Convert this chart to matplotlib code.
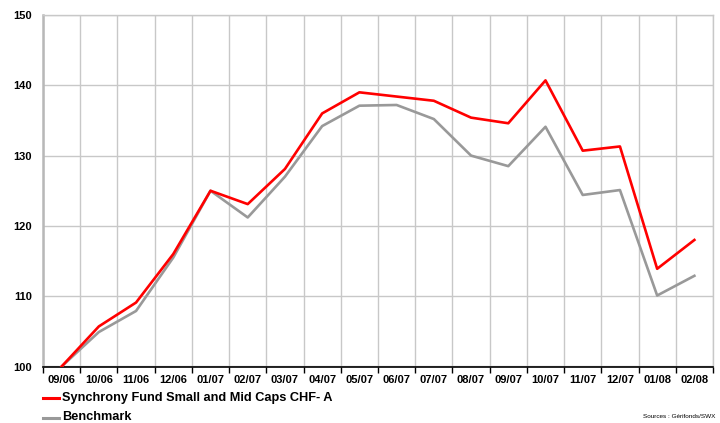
import numpy as np
import matplotlib
matplotlib.use('Agg')
import matplotlib.pyplot as plt
from matplotlib.lines import Line2D

plt.rcParams['font.family'] = ['Liberation Sans', 'DejaVu Sans']

# monthly index values (base 100 = 09/06)
months = ['09/06', '10/06', '11/06', '12/06', '01/07', '02/07', '03/07', '04/07', '05/07',
          '06/07', '07/07', '08/07', '09/07', '10/07', '11/07', '12/07', '01/08', '02/08']
fund = [100, 105.7, 109.1, 116.0, 125.0, 123.1, 128.1, 136.0, 139.0,
        138.4, 137.8, 135.4, 134.6, 140.7, 130.7, 131.3, 113.9, 118.0]
bench = [100, 104.9, 107.9, 115.5, 125.0, 121.2, 127.0, 134.2, 137.1,
         137.2, 135.2, 130.0, 128.5, 134.1, 124.4, 125.1, 110.1, 112.9]
yticks = [100, 110, 120, 130, 140, 150]

fund_name = 'Synchrony Fund Small and Mid Caps CHF- A'
bench_name = 'Benchmark'
red = '#ff0000'
grey = '#999999'
gridc = '#c8c8c8'

fig = plt.figure(figsize=(7.2, 4.23), dpi=100)
ax = fig.add_axes([43/720, 1 - 366.5/423, 670/720, (366.5 - 15)/423])

x = np.arange(len(months))
ax.plot(x, bench, color=grey, lw=1.9, zorder=3)
ax.plot(x, fund, color=red, lw=1.9, zorder=4)

ax.set_xlim(-0.5, len(months) - 0.5)
ax.set_ylim(100, 150)
ax.set_yticks(yticks)
ax.set_yticklabels([str(v) for v in yticks], fontsize=8, fontweight='bold')
ax.set_xticks(x)
ax.set_xticklabels(months, fontsize=8, fontweight='bold')
ax.set_xticks(np.arange(len(months) + 1) - 0.5, minor=True)

ax.tick_params(axis='x', which='major', length=0, pad=6)
ax.tick_params(axis='x', which='minor', length=4, width=1, color='black', direction='out')
ax.tick_params(axis='y', which='both', length=0, pad=8)

ax.grid(axis='y', which='major', color=gridc, lw=1)
ax.grid(axis='x', which='minor', color=gridc, lw=1)
ax.set_axisbelow(True)

for s in ['top', 'right']:
    ax.spines[s].set_color(gridc)
    ax.spines[s].set_linewidth(1)
ax.spines['left'].set_color('#b8b8b8')
ax.spines['left'].set_linewidth(1.8)
ax.spines['bottom'].set_color('black')
ax.spines['bottom'].set_linewidth(1.2)

# legend below the chart
fig.add_artist(Line2D([43/720, 59/720], [1 - 397.5/423] * 2, color=red, lw=2.2))
fig.text(62.5/720, 1 - 397.5/423, fund_name, fontsize=9.2, fontweight='bold', va='center')
fig.add_artist(Line2D([43/720, 59/720], [1 - 417.5/423] * 2, color=grey, lw=2.2))
fig.text(62.5/720, 1 - 416.5/423, bench_name, fontsize=9.2, fontweight='bold', va='center')

fig.text(715/720, 1 - 416/423, 'Sources : Gérifonds/SWX', fontsize=4.6, ha='right', va='center')

fig.savefig('out.png', dpi=100)
